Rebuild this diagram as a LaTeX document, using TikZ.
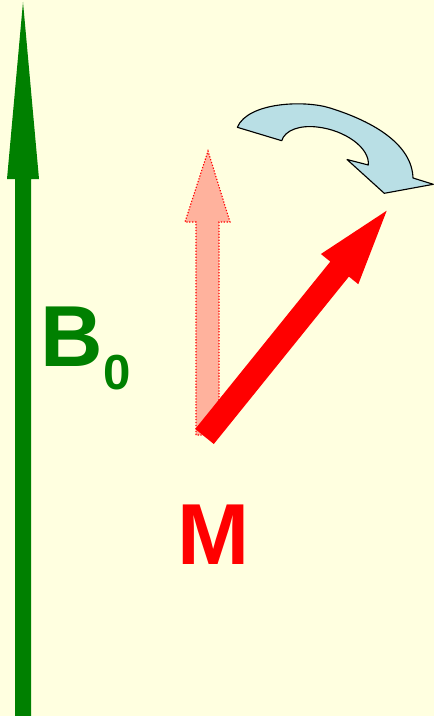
\documentclass[tikz,border=0pt]{standalone}
\usepackage{fontspec}
\setmainfont{Liberation Sans}
\definecolor{paper}{RGB}{255,255,224}
\definecolor{fieldgreen}{RGB}{0,128,0}
\definecolor{pinkfill}{RGB}{255,178,157}
\definecolor{turnblue}{RGB}{185,223,229}
\begin{document}
\begin{tikzpicture}[
    x=0.025cm, y=-0.025cm,
    field/.style={fill=fieldgreen},
    moment/.style={fill=red},
    oldmoment/.style={fill=pinkfill,draw=red,line width=0.8pt,dash pattern=on 0.9pt off 1.2pt},
    spinarrow/.style={fill=turnblue,draw=black,line width=0.8pt,line join=round},
    biglabel/.style={inner sep=0pt,font=\bfseries\fontsize{61.6}{62}\selectfont}
]
    % Background
    \fill[paper] (0,0) rectangle (434,716);
    \useasboundingbox (0,0) rectangle (434,716);

    % B0 field arrow
    \fill[field] (15,716) -- (15,179) -- (7,179) -- (23,2) -- (39,179)
        -- (31,179) -- (31,716) -- cycle;

    % M before tipping
    \draw[oldmoment] (196,435) -- (196,222) -- (185,222) -- (208,151)
        -- (230,222) -- (219,222) -- (219,435) -- cycle;

    % M after tipping
    \fill[moment] (195.2,429) -- (330.3,261.6) -- (320.9,254) -- (386.7,210.7)
        -- (358.3,284.2) -- (348.9,276.6) -- (213.8,444) -- cycle;

    % Rotation
    \draw[spinarrow] (237.3,127.3) .. controls (248,102) and (305,100) .. (330,108)
        .. controls (375,122) and (412,145) .. (413,178)
        -- (433.3,184.3) -- (384.3,193.3) -- (347,159.5) -- (368.3,165)
        .. controls (370,148) and (345,130) .. (317,127)
        .. controls (300,125) and (285,130) .. (281.7,140.7) -- cycle;

    % Labels
    \node[biglabel,text=fieldgreen,anchor=base west] (bzero) at (40.4,366.7)
        {B\raisebox{-0.56cm}{\fontsize{35}{35}\selectfont 0}};
    \node[biglabel,text=red,anchor=base west] (mag) at (177.7,564) {M};
\end{tikzpicture}
\end{document}
